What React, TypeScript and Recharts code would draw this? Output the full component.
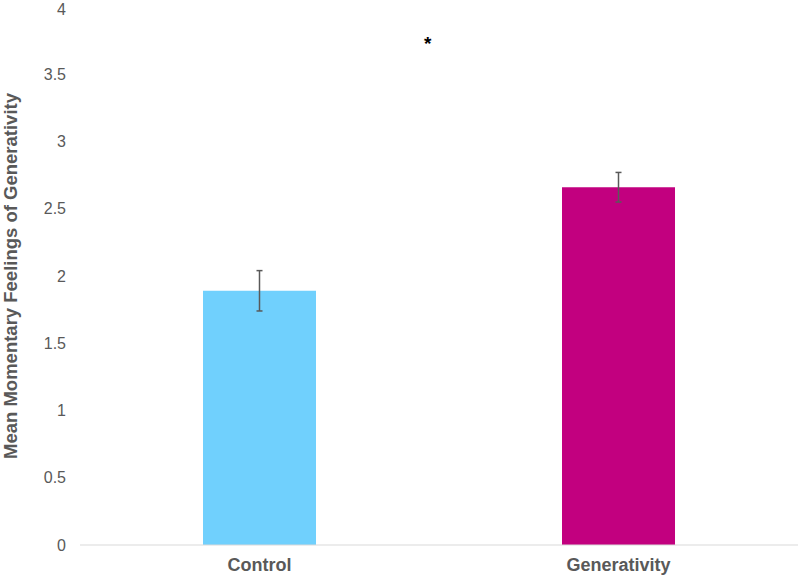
import React from 'react';
import { BarChart, Bar, XAxis, YAxis, ErrorBar, Cell } from 'recharts';

// Condition labels and their mean scores
const conditions = ['Control', 'Generativity'];
const means = [1.89, 2.66];
const errors = [0.15, 0.11];
const barColors = ['#70D0FD', '#C2007F'];
const yTicks = [0, 0.5, 1, 1.5, 2, 2.5, 3, 3.5, 4];

const data = conditions.map((name, i) => ({ name, mean: means[i], err: errors[i] }));

const font = '"Liberation Sans", Arial, sans-serif';

const App: React.FC = () => {
    return (
        <div style={{ position: 'absolute', left: 0, top: 0, width: 800, height: 581, background: '#fff', fontFamily: font }}>
            <BarChart
                width={800}
                height={581}
                data={data}
                margin={{ top: 7, right: 2, left: 0, bottom: 0 }}
            >
                <XAxis
                    dataKey="name"
                    height={36}
                    stroke="#D9D9D9"
                    tickLine={false}
                    tickSize={0}
                    tickMargin={13}
                    tick={{ fill: '#595959', fontSize: 18, fontWeight: 'bold', fontFamily: font }}
                />
                <YAxis
                    width={80}
                    domain={[0, 4]}
                    ticks={yTicks}
                    axisLine={false}
                    tickLine={false}
                    tickSize={0}
                    tickMargin={14}
                    tick={{ fill: '#595959', fontSize: 16, fontFamily: font }}
                    label={{
                        value: 'Mean Momentary Feelings of Generativity',
                        angle: -90,
                        position: 'insideLeft',
                        dx: 5,
                        style: { textAnchor: 'middle', fill: '#595959', fontSize: 18.5, fontWeight: 'bold', fontFamily: font },
                    }}
                />
                <Bar dataKey="mean" barSize={113} isAnimationActive={false}>
                    {data.map((d, i) => (
                        <Cell key={d.name} fill={barColors[i]} />
                    ))}
                    <ErrorBar dataKey="err" width={3} stroke="#595959" strokeWidth={1.5} direction="y" />
                </Bar>
            </BarChart>
            <div style={{ position: 'absolute', left: 424, top: 33, fontSize: 19, fontWeight: 'bold', color: '#000', fontFamily: font }}>*</div>
        </div>
    );
};

export default App;
